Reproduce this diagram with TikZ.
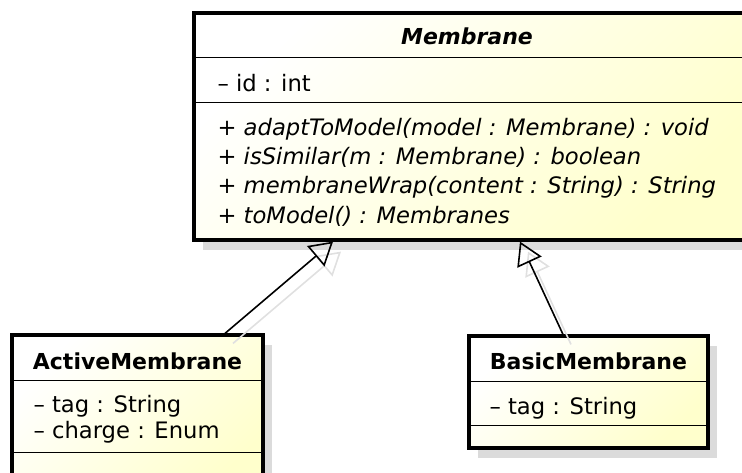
\documentclass[tikz,border=0pt]{standalone}
\usepackage{fontspec}
\setmainfont{DejaVu Sans}
\usetikzlibrary{positioning,fit,arrows.meta}
\tikzset{every picture/.style={line width=0.8pt}}

\begin{document}
\begin{tikzpicture}[x=0.75pt, y=-0.75pt,
    classbox/.style={draw=black, line width=2.4pt, inner sep=0pt,
        top color=white, bottom color=yellow!20, shading angle=45},
    shadowbox/.style={fill=black!14, draw=none},
    member/.style={anchor=west, inner sep=0pt, align=left,
        font=\fontsize{17}{19.5}\selectfont},
    classname/.style={inner sep=0pt, font=\fontsize{16.5}{18}\selectfont\bfseries},
    extends/.style={line width=1.2pt, -{Triangle[open, length=17pt, width=20pt]}},
    extendsshadow/.style={extends, draw=black!12}]
\useasboundingbox (0,0) rectangle (742,472);

    % Shadows
\fill[shadowbox] (203,23) rectangle (754,250);
\fill[shadowbox] (21,345) rectangle (272,500);
\fill[shadowbox] (478,346) rectangle (717,458);

    % Classes
\node[classbox, fit={(194,13) (744,240)}] (membrane) {};
\node[classbox, fit={(12,335) (263,495)}] (active) {};
\node[classbox, fit={(469,336) (708,448)}] (basic) {};

    % Compartments
\draw[thin] ([yshift=-34.5pt]membrane.north west) -- ([yshift=-34.5pt]membrane.north east);
\draw[thin] ([yshift=-68.25pt]membrane.north west) -- ([yshift=-68.25pt]membrane.north east);
\draw[thin] ([yshift=-35.25pt]active.north west) -- ([yshift=-35.25pt]active.north east);
\draw[thin] ([yshift=-89.25pt]active.north west) -- ([yshift=-89.25pt]active.north east);
\draw[thin] ([yshift=-35.25pt]basic.north west) -- ([yshift=-35.25pt]basic.north east);
\draw[thin] ([yshift=-68.25pt]basic.north west) -- ([yshift=-68.25pt]basic.north east);

    % Names
\node[classname, font=\fontsize{16.5}{18}\selectfont\bfseries\itshape] (membranename) at (467,36) {Membrane};
\node[classname] (activename) at (137.5,361) {ActiveMembrane};
\node[classname] (basicname) at (588.5,361) {BasicMembrane};

    % Members
\node[member] (membraneattr) at (217,83) {– id : int};
\node[member, font=\fontsize{17}{22}\selectfont\itshape] (membraneops) at (217,172)
    {+ adaptToModel(model : Membrane) : void\\
     + isSimilar(m : Membrane) : boolean\\
     + membraneWrap(content : String) : String\\
     + toModel() : Membranes};
\node[member] (activeattr) at (33,419) {– tag : String\\– charge : Enum};
\node[member] (basicattr) at (489,408) {– tag : String};

    % Generalizations
\draw[extendsshadow] ([xshift=6pt,yshift=-7.5pt]active.north -| 225,0) -- ([xshift=6pt,yshift=-7.5pt]membrane.south -| 333,0);
\draw[extendsshadow] ([xshift=6pt,yshift=-7.5pt]basic.north -| 563,0) -- ([xshift=6pt,yshift=-7.5pt]membrane.south -| 520,0);
\draw[extends] (active.north -| 225,0) -- (membrane.south -| 333,0);
\draw[extends] (basic.north -| 563,0) -- (membrane.south -| 520,0);
\end{tikzpicture}
\end{document}
